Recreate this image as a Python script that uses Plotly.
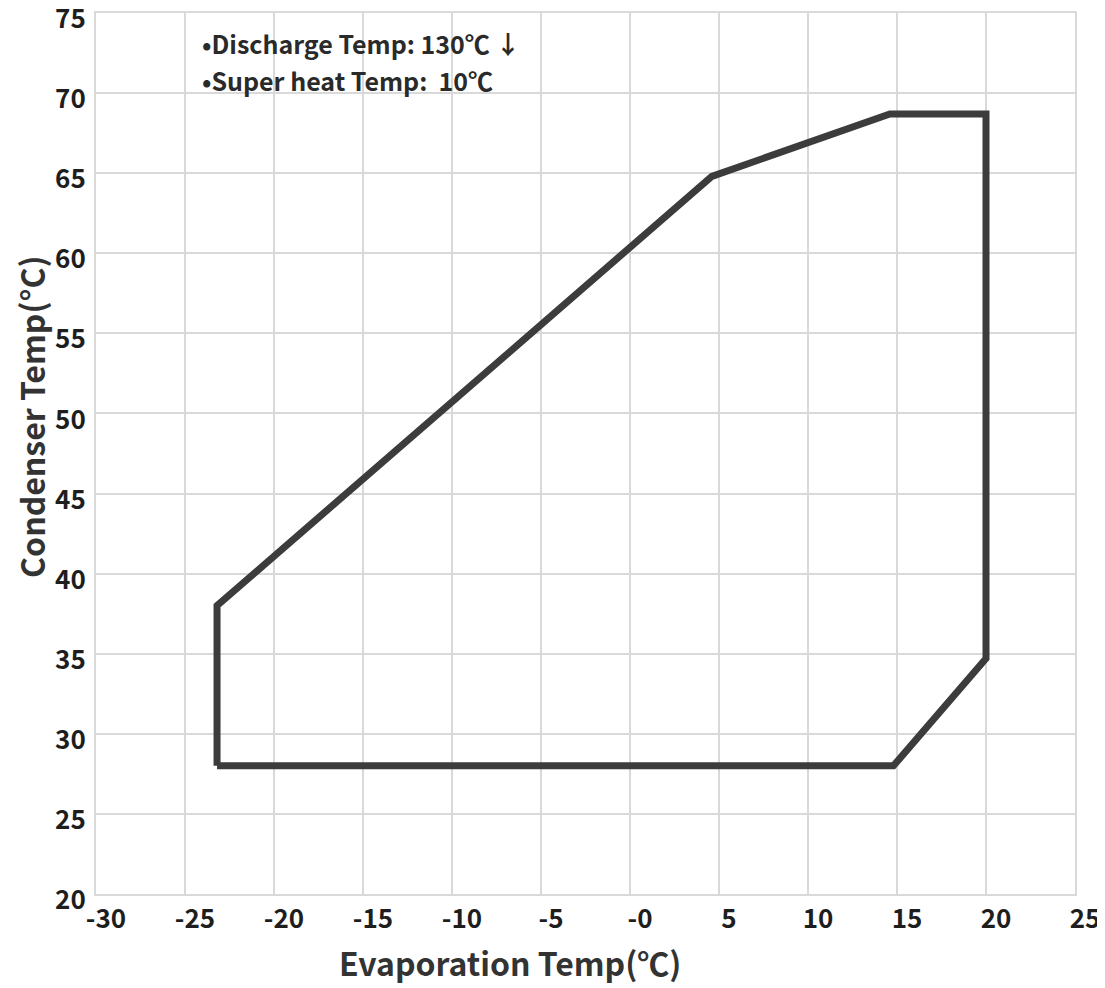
import plotly.graph_objects as go

# Operating envelope (Evaporation temp, Condenser temp)
evap_temp = [-23.2, -23.2, 4.6, 14.6, 20.0, 20.0, 14.8, -23.2]
cond_temp = [28.0, 38.0, 64.8, 68.7, 68.7, 34.7, 28.0, 28.0]

x_ticks = [-30, -25, -20, -15, -10, -5, 0, 5, 10, 15, 20, 25]
x_tick_labels = ["-30", "-25", "-20", "-15", "-10", "-5", "-0", "5", "10", "15", "20", "25"]
y_ticks = [20, 25, 30, 35, 40, 45, 50, 55, 60, 65, 70, 75]

notes = ["•Discharge Temp: 130℃ ↓", "•Super heat Temp:  10℃"]

FONT = "Noto Sans CJK KR"

fig = go.Figure()
fig.add_trace(go.Scatter(
    x=evap_temp, y=cond_temp, mode="lines",
    line=dict(color="#3c3c3c", width=7),
    showlegend=False, hoverinfo="skip",
))

grid = "#d9d9d9"
fig.update_xaxes(
    range=[-30, 25], tickvals=x_ticks, ticktext=x_tick_labels,
    showgrid=True, gridcolor=grid, gridwidth=2,
    showline=True, linecolor=grid, linewidth=2, mirror=True,
    zeroline=False, ticks="", ticklabelshift=10, ticklabelstandoff=1,
    automargin=False, ticklabeloverflow="allow",
    tickfont=dict(family=FONT, size=26, color="#1e1e1e", weight="bold"),
)
fig.update_yaxes(
    range=[20, 75], tickvals=y_ticks,
    showgrid=True, gridcolor=grid, gridwidth=2,
    showline=True, linecolor=grid, linewidth=2, mirror=True,
    zeroline=False, ticks="", ticklabelstandoff=3, ticklabelshift=6,
    automargin=False, ticklabeloverflow="allow",
    tickfont=dict(family=FONT, size=26, color="#1e1e1e", weight="bold"),
)

fig.add_annotation(text="Evaporation Temp(℃)", xref="paper", yref="paper",
                   x=0.423, y=-0.077, xanchor="center", yanchor="middle",
                   showarrow=False,
                   font=dict(family=FONT, size=32, color="#333333", weight="bold"))
fig.add_annotation(text="Condenser Temp(°C)", xref="paper", yref="paper",
                   x=-0.066, y=0.542, xanchor="center", yanchor="middle",
                   textangle=-90, showarrow=False,
                   font=dict(family=FONT, size=32, color="#333333", weight="bold"))
for i, t in enumerate(notes):
    fig.add_annotation(text=t, xref="paper", yref="paper",
                       x=0.106, y=0.966 - i * 0.042, xanchor="left", yanchor="middle",
                       showarrow=False,
                       font=dict(family=FONT, size=25, color="#2a2a2a", weight="bold"))

fig.update_layout(
    width=1097, height=980,
    margin=dict(l=88, r=30, t=5, b=94, autoexpand=False),
    paper_bgcolor="white", plot_bgcolor="white",
)

fig.write_html("out.html")
